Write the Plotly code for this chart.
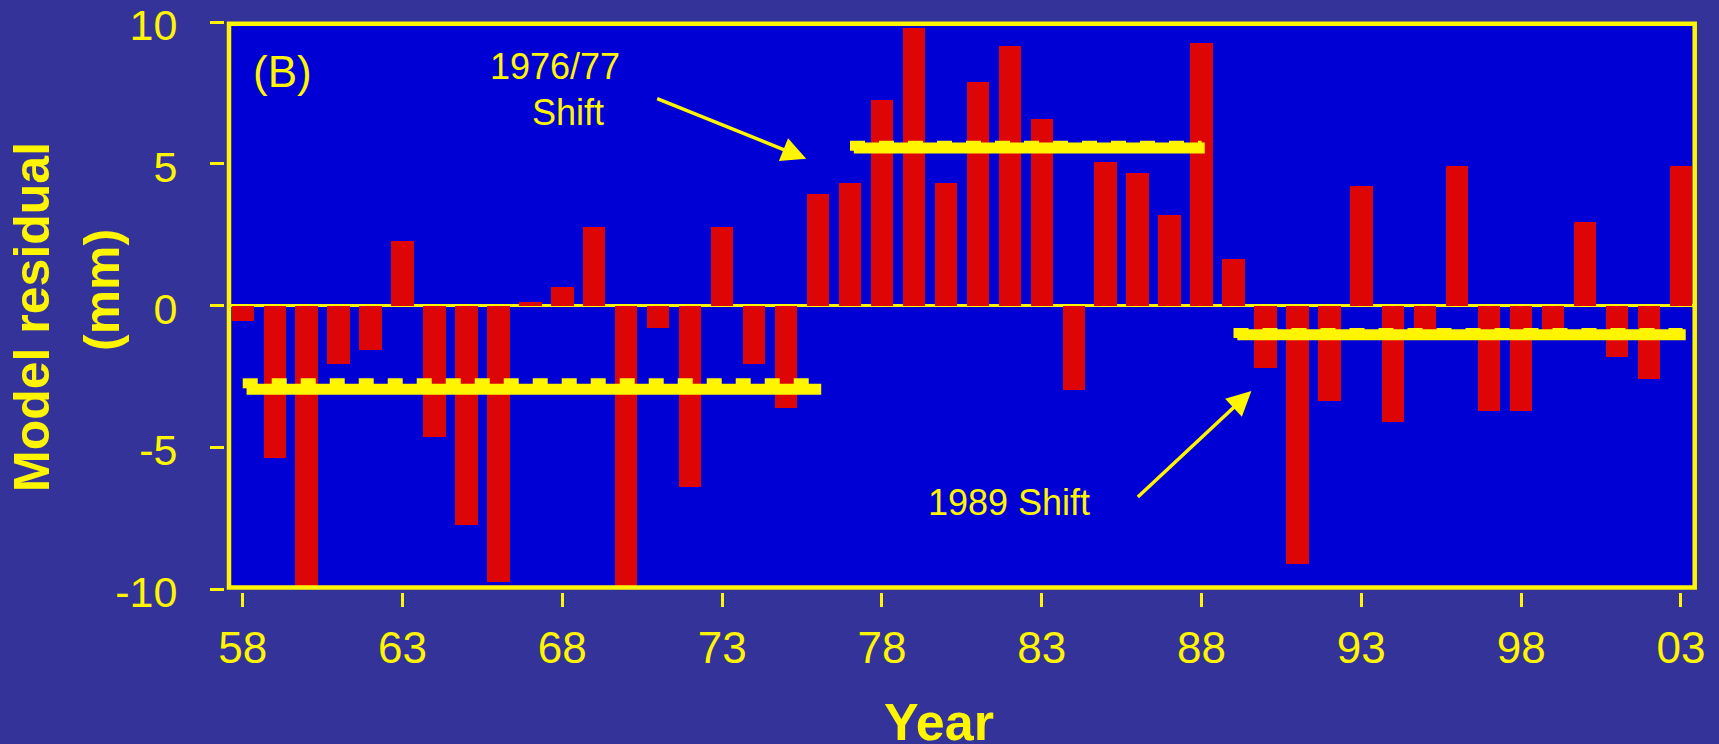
import plotly.graph_objects as go

# Annual model residuals (mm), 1958-2003
years = list(range(1958, 2004))
residual = [
    -0.53, -5.38, -10.0, -2.06, -1.56, 2.27, -4.65, -7.72, -9.73, 0.13,
    0.66, 2.78, -10.0, -0.78, -6.41, 2.78, -2.06, -3.61, 3.95, 4.31,
    7.25, 9.78, 4.31, 7.88, 9.15, 6.59, -2.97, 5.08, 4.69, 3.18,
    9.25, 1.64, -2.20, -9.10, -3.37, 4.20, -4.11, -0.85, 4.94, -3.71,
    -3.71, -0.85, 2.94, -1.80, -2.58, 4.94,
]

# Regime means between the climate shifts
regime_start = [1958.0, 1977.0, 1989.0]
regime_end = [1976.1, 1988.1, 2003.15]
regime_mean = [-2.95, 5.56, -1.03]
regime_mean_dashed = [-2.74, 5.64, -0.97]

tick_years = [1958, 1963, 1968, 1973, 1978, 1983, 1988, 1993, 1998, 2003]
tick_labels = ["58", "63", "68", "73", "78", "83", "88", "93", "98", "03"]
y_ticks = [-10, -5, 0, 5, 10]
y_labels = ["-10", "-5", "0", "5", "10"]

W, H = 1719, 744
ML, MR, MT, MB = 224, 24, 22, 152
PW, PH = W - ML - MR, H - MT - MB


def px(x):
    return (x - ML) / PW


def py(y):
    return (H - MB - y) / PH


YELLOW = "#FFF500"
RED = "#DD0505"
PLOT_BG = "#0000D4"
PAPER_BG = "#333399"
FONT = "Liberation Sans, Arial, sans-serif"

fig = go.Figure()

fig.add_trace(go.Bar(
    x=years, y=residual, width=0.70,
    marker=dict(color=RED, line=dict(width=0)),
    hoverinfo="x+y", showlegend=False,
))

for x0, x1, m, md in zip(regime_start, regime_end, regime_mean, regime_mean_dashed):
    fig.add_trace(go.Scatter(
        x=[x0, x1 - 0.1], y=[md, md], mode="lines",
        line=dict(color=YELLOW, width=10, dash="15px,14px"),
        showlegend=False, hoverinfo="skip",
    ))
    fig.add_trace(go.Scatter(
        x=[x0 + 0.12, x1], y=[m, m], mode="lines",
        line=dict(color=YELLOW, width=11),
        showlegend=False, hoverinfo="skip",
    ))

annotations = [
    dict(text="(B)", x=1959.23, y=8.27, xref="x", yref="y", showarrow=False,
         font=dict(size=44, color=YELLOW, family=FONT)),
    dict(text="1976/77", x=1967.77, y=8.44, xref="x", yref="y", showarrow=False,
         font=dict(size=36, color=YELLOW, family=FONT)),
    dict(text="Shift", x=1968.19, y=6.8, xref="x", yref="y", showarrow=False,
         font=dict(size=36, color=YELLOW, family=FONT)),
    dict(text="1989 Shift", x=1981.96, y=-6.96, xref="x", yref="y", showarrow=False,
         font=dict(size=36, color=YELLOW, family=FONT)),
    # arrows pointing at the shift lines
    dict(text="", x=1975.63, y=5.18, ax=1970.92, ay=7.32,
         xref="x", yref="y", axref="x", ayref="y",
         showarrow=True, arrowhead=2, arrowsize=1.4, arrowwidth=3.5,
         arrowcolor=YELLOW, standoff=0, startstandoff=0),
    dict(text="", x=1989.56, y=-3.01, ax=1985.96, ay=-6.80,
         xref="x", yref="y", axref="x", ayref="y",
         showarrow=True, arrowhead=2, arrowsize=1.4, arrowwidth=3.5,
         arrowcolor=YELLOW, standoff=0, startstandoff=0),
    # axis titles
    dict(text="Model residual", x=px(32.5), y=py(317.5), xref="paper", yref="paper",
         textangle=-90, showarrow=False, xanchor="center", yanchor="middle",
         font=dict(size=50, color=YELLOW, family=FONT, weight="bold")),
    dict(text="(mm)", x=px(102), y=py(290), xref="paper", yref="paper",
         textangle=-90, showarrow=False, xanchor="center", yanchor="middle",
         font=dict(size=50, color=YELLOW, family=FONT, weight="bold")),
    dict(text="Year", x=px(938.6), y=py(722), xref="paper", yref="paper",
         showarrow=False, xanchor="center", yanchor="middle",
         font=dict(size=52, color=YELLOW, family=FONT, weight="bold")),
]

fig.update_layout(
    width=W, height=H,
    margin=dict(l=ML, r=MR, t=MT, b=MB, pad=0, autoexpand=False),
    paper_bgcolor=PAPER_BG,
    plot_bgcolor=PLOT_BG,
    bargap=0,
    font=dict(family=FONT, color=YELLOW),
    annotations=annotations,
    shapes=[dict(
        type="rect", xref="paper", yref="paper",
        x0=px(229), x1=px(1694.7), y0=py(587.5), y1=py(23.7),
        line=dict(color=YELLOW, width=4.5), layer="above",
    )],
    xaxis=dict(
        domain=[px(229), 1], range=[1957.57, 2003.44],
        anchor="free", position=0, automargin=False,
        tickvals=tick_years, ticktext=tick_labels,
        ticks="outside", ticklen=14, tickwidth=3, tickcolor=YELLOW,
        ticklabelstandoff=3, ticklabeloverflow="allow",
        tickfont=dict(size=44, color=YELLOW, family=FONT),
        showgrid=False, zeroline=False, showline=False,
    ),
    yaxis=dict(
        domain=[py(589.2), 1], range=[-10, 10],
        anchor="free", position=0, automargin=False,
        tickvals=y_ticks, ticktext=y_labels,
        ticks="outside", ticklen=14, tickwidth=3, tickcolor=YELLOW,
        ticklabelstandoff=24, ticklabelshift=3, ticklabeloverflow="allow",
        tickfont=dict(size=43, color=YELLOW, family=FONT),
        showgrid=False, zeroline=True, zerolinecolor=YELLOW, zerolinewidth=3,
        showline=False,
    ),
)

fig.write_html("out.html")
